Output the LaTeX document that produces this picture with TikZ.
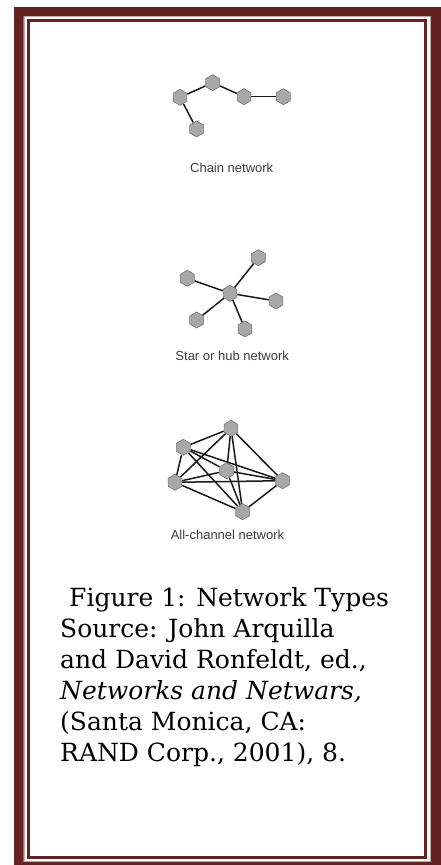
\documentclass[tikz,border=0pt]{standalone}
\usepackage{fontspec}
\setmainfont{DejaVu Serif}
\newfontfamily\labelfont{Liberation Sans}
\usetikzlibrary{shapes.geometric,backgrounds}
\definecolor{bandcol}{RGB}{101,34,34}
\definecolor{bandlight}{RGB}{196,168,168}
\definecolor{hexfill}{RGB}{168,168,168}
\definecolor{hexdraw}{RGB}{115,115,115}
\definecolor{linkcol}{RGB}{25,25,25}
\definecolor{labelcol}{RGB}{60,60,60}
\begin{document}
\begin{tikzpicture}[x=1pt,y=-1pt,
  hexnode/.style={regular polygon, regular polygon sides=6, shape border rotate=30,
    minimum size=16pt, inner sep=0pt, fill=hexfill, draw=hexdraw, line width=0.6pt},
  link/.style={draw=linkcol, line width=1.5pt},
  netlabel/.style={font=\labelfont\fontsize{13}{15}\selectfont, text=labelcol, inner sep=0pt},
  captext/.style={font=\fontsize{25}{31}\selectfont, anchor=base west, inner sep=0pt}]
\useasboundingbox (0,0) rectangle (440,865);
% frame
\fill[bandcol, even odd rule] (14,7) rectangle (446,871) (23.5,16) rectangle (431,862);
\draw[bandlight, line width=0.8pt] (24,16.4) rectangle (430.6,861.6);
\draw[bandcol, line width=3.2pt] (28.35,20.65) rectangle (425.5,857.35);
% chain network
\node[hexnode] (c1) at (180,97.3) {};
\node[hexnode] (c2) at (212.7,82.7) {};
\node[hexnode] (c3) at (244,96.7) {};
\node[hexnode] (c4) at (283.3,96.7) {};
\node[hexnode] (c5) at (196.7,129) {};
\node[netlabel] (lchain) at (231.7,168.3) {Chain network};
% star network
\node[hexnode] (s0) at (230,293.3) {};
\node[hexnode] (s1) at (258.3,257.7) {};
\node[hexnode] (s2) at (187.3,278.3) {};
\node[hexnode] (s3) at (276,301) {};
\node[hexnode] (s4) at (196.7,320) {};
\node[hexnode] (s5) at (245,329) {};
\node[netlabel] (lstar) at (232.2,355.7) {Star or hub network};
% all-channel network
\node[hexnode] (a1) at (231,428.3) {};
\node[hexnode] (a2) at (183.3,447.3) {};
\node[hexnode] (a3) at (226.7,470.7) {};
\node[hexnode] (a4) at (175,482.3) {};
\node[hexnode] (a5) at (282.7,480.7) {};
\node[hexnode] (a6) at (242.7,511.7) {};
\node[netlabel] (lall) at (227.5,535) {All-channel network};
\begin{scope}[on background layer]
  \draw[link] (c1) -- (c2);
  \draw[link] (c2) -- (c3);
  \draw[link] (c3) -- (c4);
  \draw[link] (c1) -- (c5);
  \foreach \i in {1,...,5} {\draw[link] (s0) -- (s\i);}
  \foreach \i/\j in {1/2,1/3,1/4,1/5,1/6,2/3,2/4,2/5,2/6,3/4,3/5,3/6,4/5,4/6,5/6}
    {\draw[link] (a\i) -- (a\j);}
\end{scope}
% caption
\node[captext] (t1) at (69,606) {Figure 1: Network Types};
\node[captext] (t2) at (60,637) {Source: John Arquilla};
\node[captext] (t3) at (60,668) {and David Ronfeldt, ed.,};
\node[captext] (t4) at (60,699) {\itshape Networks and Netwars,};
\node[captext] (t5) at (60,730) {(Santa Monica, CA:};
\node[captext] (t6) at (60,761) {RAND Corp., 2001), 8.};
\end{tikzpicture}
\end{document}
